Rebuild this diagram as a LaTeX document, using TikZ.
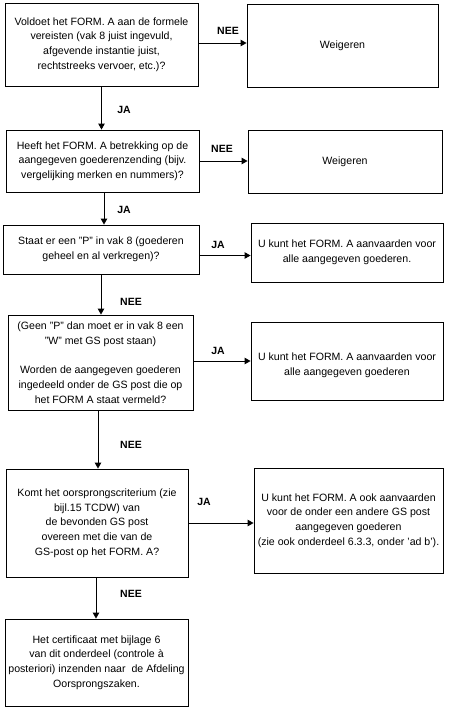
\documentclass[tikz,border=0pt]{standalone}
\usepackage{fontspec}
\setmainfont{Liberation Sans}
\usetikzlibrary{arrows.meta,calc}
\begin{document}
\begin{tikzpicture}[x=1pt,y=-1pt,
  box/.style={draw,line width=0.9pt,rectangle,inner sep=0pt,align=center,
    font=\fontsize{10.6}{14.7}\selectfont},
  lbl/.style={font=\fontsize{10.5}{12}\selectfont\bfseries,inner sep=0pt},
  arr/.style={line width=0.9pt,-{Triangle[length=6pt,width=6.5pt]}}]
\useasboundingbox (0,0) rectangle (458,718);
\node[box,minimum width=193pt,minimum height=83pt] (b1) at (101.5,44.5)
  {Voldoet het FORM. A aan de formele\\vereisten (vak 8 juist ingevuld,\\afgevende instantie juist,\\rechtstreeks vervoer, etc.)?};
\node[box,minimum width=191pt,minimum height=83pt] (w1) at (342.5,45.5) {Weigeren};
\node[box,minimum width=193pt,minimum height=62pt] (b2) at (102.5,161)
  {Heeft het FORM. A betrekking op de\\aangegeven goederenzending (bijv.\\vergelijking merken en nummers)?};
\node[box,minimum width=194pt,minimum height=63pt] (w2) at (345,161.5) {Weigeren};
\node[box,minimum width=196pt,minimum height=49pt] (b3) at (101,249.5)
  {Staat er een "P" in vak 8 (goederen\\geheel en al verkregen)?};
\node[box,minimum width=192pt,minimum height=59pt] (r3) at (347,252.5)
  {U kunt het FORM. A aanvaarden voor\\alle aangegeven goederen.};
\node[box,minimum width=185pt,minimum height=95pt] (b4) at (100.5,362.5)
  {(Geen "P" dan moet er in vak 8 een\\"W" met GS post staan)\\[14.7pt]Worden de aangegeven goederen\\ingedeeld onder de GS post die op\\het FORM A staat vermeld?};
\node[box,minimum width=192pt,minimum height=78pt] (r4) at (347,361)
  {\mbox{}\\[2pt]U kunt het FORM. A aanvaarden voor\\alle aangegeven goederen};
\node[box,minimum width=182pt,minimum height=108pt] (b5) at (97,523)
  {Komt het oorsprongscriterium (zie\\bijl.15 TCDW) van\\de bevonden GS post\\overeen met die van de\\GS-post op het FORM. A?};
\node[box,minimum width=189pt,minimum height=105pt] (r5) at (348.5,520.5)
  {U kunt het FORM. A ook aanvaarden\\voor de onder een andere GS post\\aangegeven goederen\\(zie ook onderdeel 6.3.3, onder 'ad b').};
\node[box,minimum width=183pt,minimum height=87pt] (b6) at (96.5,662.5)
  {Het certificaat met bijlage 6\\van dit onderdeel (controle à\\posteriori) inzenden naar\ \ de Afdeling\\Oorsprongszaken.};
% horizontal arrows
\draw[arr] ([yshift=1.5pt]b1.east) -- ([yshift=1.5pt]b1.east -| w1.west);
\draw[arr] (b2.east) -- (b2.east -| w2.west);
\draw[arr] ([yshift=-6pt]b3.east) -- ([yshift=-6pt]b3.east -| r3.west);
\draw[arr] (b4.east |- r4.west) -- (r4.west);
\draw[arr] (b5.east) -- (b5.east -| r5.west);
% vertical arrows
\draw[arr] (b1.south) -- (b1.south |- b2.north);
\draw[arr] ([xshift=1.5pt]b2.south) -- ([xshift=1.5pt]b2.south |- b3.north);
\draw[arr] (b3.south) -- (b3.south |- b4.north);
\draw[arr] ([xshift=-2.5pt]b4.south) -- ([xshift=-2.5pt]b4.south |- b5.north);
\draw[arr] ([xshift=-1pt]b5.south) -- ([xshift=-1pt]b5.south |- b6.north);
% labels
\node[lbl] (l1) at (228,31) {NEE};
\node[lbl] (l2) at (124,110) {JA};
\node[lbl] (l3) at (222,149) {NEE};
\node[lbl] (l4) at (124,210) {JA};
\node[lbl] (l5) at (218,245) {JA};
\node[lbl] (l6) at (131,302) {NEE};
\node[lbl] (l7) at (218,351) {JA};
\node[lbl] (l8) at (131,445) {NEE};
\node[lbl] (l9) at (204,502) {JA};
\node[lbl] (l10) at (131,594) {NEE};
\end{tikzpicture}
\end{document}
